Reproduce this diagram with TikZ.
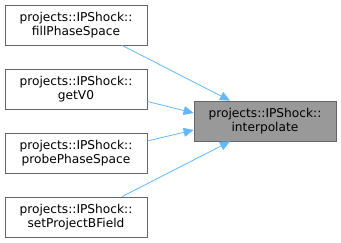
\documentclass[tikz,border=0pt]{standalone}
\definecolor{edgeblue}{RGB}{99, 184, 255}
\definecolor{boxgrey}{RGB}{102, 102, 102}
\definecolor{maingrey}{RGB}{153, 153, 153}
\usepackage{fontspec}
\setmainfont{DejaVu Sans}
\usepackage{tikz}
\usetikzlibrary{arrows.meta, positioning, calc}

\begin{document}
\begin{tikzpicture}[x=1pt, y=-1pt,
    fnbox/.style={draw=boxgrey, fill=white, line width=0.8pt, minimum width=142pt, minimum height=40pt,
      inner sep=0pt, align=center, font=\fontsize{12.2}{13.8}\selectfont},
    mainbox/.style={fnbox, fill=maingrey},
    callarrow/.style={draw=edgeblue, line width=0.8pt, -{Triangle[length=10pt, width=9pt]}}]
  \useasboundingbox (0,0) rectangle (341,243);
  \node[fnbox] (fill) at (76,25) {projects::IPShock::\\fillPhaseSpace};
  \node[fnbox] (getv) at (76,89.5) {projects::IPShock::\\getV0};
  \node[fnbox] (probe) at (76,153) {projects::IPShock::\\probePhaseSpace};
  \node[fnbox] (setb) at (76,217) {projects::IPShock::\\setProjectBField};
  \node[mainbox] (interp) at (265,121) {projects::IPShock::\\interpolate};
  % calls into interpolate
  \draw[callarrow] ([xshift=46pt]fill.south) -- ([xshift=-35pt]interp.north);
  \draw[callarrow] ([yshift=-12pt]getv.east) -- ([yshift=8pt]interp.west);
  \draw[callarrow] ([yshift=12pt]probe.east) -- ([yshift=-9pt]interp.west);
  \draw[callarrow] ([xshift=46pt]setb.north) -- ([xshift=-35pt]interp.south);
\end{tikzpicture}
\end{document}
